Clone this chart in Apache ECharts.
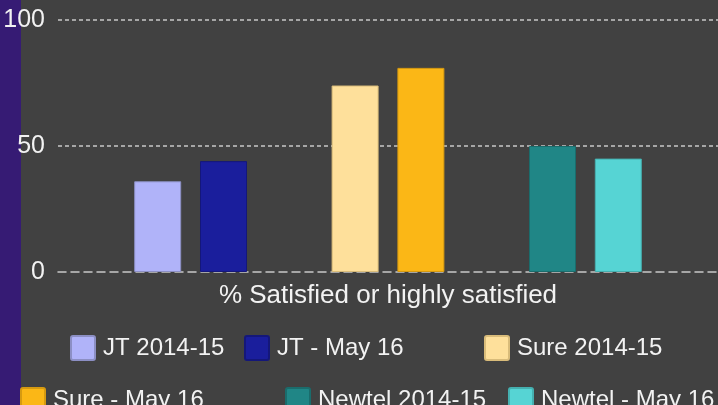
<!DOCTYPE html>
<html>
<head>
<meta charset="utf-8">
<script src="https://cdn.jsdelivr.net/npm/echarts@6/dist/echarts.min.js"></script>
<style>
  html, body { margin: 0; padding: 0; background: #414141; }
  #chart { width: 718px; height: 405px; }
</style>
</head>
<body>
<div id="chart"></div>
<script>
// data
var categories = ['% Satisfied or highly satisfied'];
var seriesNames = ['JT 2014-15', 'JT - May 16', 'Sure 2014-15', 'Sure - May 16', 'Newtel 2014-15', 'Newtel - May 16'];
var seriesValues = [36, 44, 74, 81, 50, 45];
var yTicks = [0, 50, 100];

// styles
var colors = ['#b0b3f9', '#1a1e9c', '#fee09b', '#fbb716', '#208686', '#56d4d4'];
var borders = ['#8c8fc4', '#14177a', '#d9bc7a', '#d69a10', '#1a6c6c', '#45b0b0'];
var legendPos = [[70, 335], [244, 335], [484, 335], [20, 387], [285, 387], [508, 387]];
var font = 'Liberation Sans, Arial, sans-serif';
var squareIcon = 'path://M2,0 L22,0 Q24,0 24,2 L24,22 Q24,24 22,24 L2,24 Q0,24 0,22 L0,2 Q0,0 2,0 Z';

var chart = echarts.init(document.getElementById('chart'));

// bar series, with an empty slot between each operator pair
var series = [];
seriesNames.forEach(function (name, i) {
  series.push({
    name: name,
    type: 'bar',
    data: [seriesValues[i]],
    barWidth: 47,
    barGap: '40%',
    itemStyle: { color: colors[i], borderColor: borders[i], borderWidth: 1 }
  });
  if (i === 1 || i === 3) {
    series.push({ name: 'gap' + i, type: 'bar', data: [null], barWidth: 47 });
  }
});

var legends = seriesNames.map(function (name, i) {
  return {
    data: [name],
    left: legendPos[i][0],
    top: legendPos[i][1],
    padding: 0,
    itemWidth: 24,
    itemHeight: 24,
    icon: squareIcon,
    selectedMode: false,
    textStyle: { color: '#f2f2f2', fontSize: 24, fontFamily: font, padding: [0, 0, 0, 3] }
  };
});

chart.setOption({
  backgroundColor: '#414141',
  animation: false,
  graphic: [{
    type: 'rect',
    left: 0, top: 0, z: -1,
    shape: { width: 21, height: 405 },
    style: { fill: '#361b74' }
  }],
  grid: { left: 58, right: 0, top: 20, bottom: 133 },
  legend: legends,
  xAxis: {
    type: 'category',
    data: categories,
    axisTick: { show: false },
    axisLine: { show: true, lineStyle: { color: '#c8c8c8', type: [8, 5], width: 1.5 } },
    axisLabel: { color: '#f2f2f2', fontSize: 26, fontFamily: font, margin: 11 }
  },
  yAxis: {
    type: 'value',
    min: yTicks[0],
    max: yTicks[yTicks.length - 1],
    interval: yTicks[1] - yTicks[0],
    axisLine: { show: false },
    axisTick: { show: false },
    axisLabel: { color: '#f2f2f2', fontSize: 25, fontFamily: font, margin: 13 },
    splitLine: { showMinLine: false, lineStyle: { color: '#c8c8c8', type: [4, 3], width: 1.5 } }
  },
  series: series
});
</script>
</body>
</html>
